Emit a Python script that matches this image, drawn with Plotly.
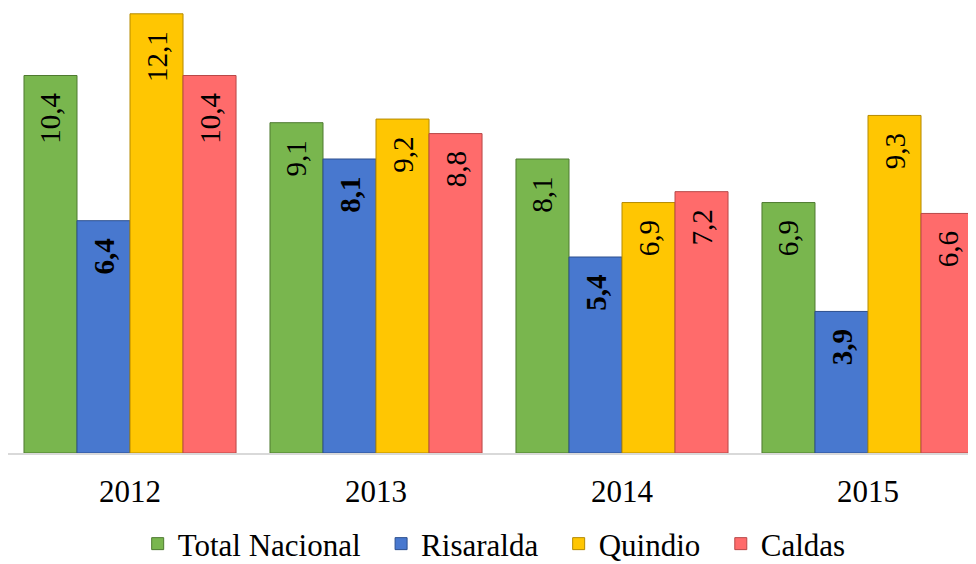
import plotly.graph_objects as go

years = ["2012", "2013", "2014", "2015"]
series_names = ["Total Nacional", "Risaralda", "Quindio", "Caldas"]
total_nacional = [10.4, 9.1, 8.1, 6.9]
risaralda = [6.4, 8.1, 5.4, 3.9]
quindio = [12.1, 9.2, 6.9, 9.3]
caldas = [10.4, 8.8, 7.2, 6.6]

colors = ["#79B64E", "#4878CF", "#FFC602", "#FF6B6B"]
edges = ["#4E7A30", "#2C4F8E", "#B58A00", "#B84848"]
bold = [False, True, False, False]
values = [total_nacional, risaralda, quindio, caldas]

FONT = "Liberation Serif"
xpos = list(range(len(years)))

fig = go.Figure()
for name, vals, c, e, b in zip(series_names, values, colors, edges, bold):
    tmpl = "<b>%{y:.1f}</b>\u00a0\u00a0" if b else "%{y:.1f}\u00a0\u00a0"
    fig.add_trace(go.Bar(
        name=name + "\u00a0\u00a0", x=xpos, y=vals,
        marker=dict(color=c, line=dict(color=e, width=1)),
        texttemplate=tmpl, textposition="inside", insidetextanchor="end",
        textangle=-90, constraintext="none",
        textfont=dict(family=FONT, size=29, color="black"),
        hoverinfo="skip",
    ))

fig.update_layout(
    width=968, height=556,
    barmode="group", bargap=0.138, bargroupgap=0,
    separators=",.",
    plot_bgcolor="white", paper_bgcolor="white",
    margin=dict(l=0, r=0, t=0, b=111),
    font=dict(family=FONT, size=31, color="black"),
    xaxis=dict(range=[-0.496, 3.439], tickvals=xpos, ticktext=years,
               showgrid=False, showline=True, linecolor="#D9D9D9", linewidth=2,
               ticks="outside", ticklen=10, tickcolor="rgba(0,0,0,0)",
               tickfont=dict(family=FONT, size=31, color="black"), zeroline=False),
    yaxis=dict(range=[0, 12.26], visible=False, showgrid=False, zeroline=False),
    legend=dict(orientation="h", xref="container", yref="container",
                x=0.51, xanchor="center", y=0.036, yanchor="middle",
                font=dict(family=FONT, size=31, color="black"), traceorder="normal"),
    showlegend=True,
)

fig.write_html("out.html")
